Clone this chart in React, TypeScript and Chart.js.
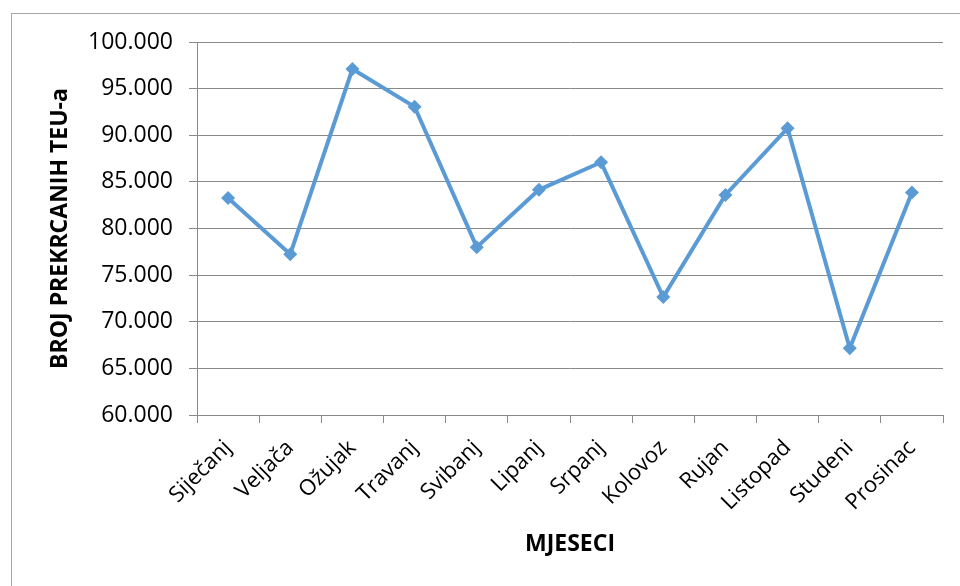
import React, { useEffect, useRef } from "react";
import { Chart, registerables } from "chart.js";

Chart.register(...registerables);

const months = [
  "Siječanj", "Veljača", "Ožujak", "Travanj", "Svibanj", "Lipanj",
  "Srpanj", "Kolovoz", "Rujan", "Listopad", "Studeni", "Prosinac",
];
const teuValues = [83270, 77250, 97100, 93050, 78000, 84150, 87100, 72650, 83600, 90750, 67150, 83850];
const yMin = 60000;
const yMax = 100000;
const yStep = 5000;
const yTitle = "BROJ PREKRCANIH TEU-a";
const xTitle = "MJESECI";

const frame = {
  id: "frame",
  beforeDraw(chart: any) {
    const { ctx } = chart;
    ctx.save();
    ctx.fillStyle = "#ffffff";
    ctx.fillRect(0, 0, chart.width, chart.height);
    ctx.strokeStyle = "#a6a6a6";
    ctx.lineWidth = 1;
    ctx.strokeRect(11.5, 13.5, 1000, 1000);
    ctx.restore();
  },
};

export default function App() {
  const ref = useRef<HTMLCanvasElement | null>(null);
  useEffect(() => {
    if (!ref.current) return;
    const font = "'Open Sans', sans-serif";
    const chart = new Chart(ref.current, {
      type: "line",
      data: {
        labels: months,
        datasets: [
          {
            data: teuValues,
            borderColor: "#5B9BD5",
            backgroundColor: "#5B9BD5",
            borderWidth: 4,
            pointStyle: "rectRot",
            pointRadius: 7,
            pointBorderWidth: 0,
            tension: 0,
          },
        ],
      },
      options: {
        animation: false,
        responsive: false,
        layout: { padding: { top: 42, right: 17, left: 0, bottom: 0 } },
        plugins: { legend: { display: false }, tooltip: { enabled: false } },
        scales: {
          x: {
            offset: true,
            grid: {
              offset: true,
              drawOnChartArea: false,
              drawTicks: true,
              tickLength: 8,
              color: "#898989",
            },
            border: { color: "#898989", width: 1 },
            ticks: {
              color: "#000",
              font: { family: font, size: 22 },
              minRotation: 45,
              maxRotation: 45,
              padding: 12,
              autoSkip: false,
            },
            title: {
              display: true,
              text: xTitle,
              color: "#000",
              font: { family: font, size: 23, weight: "bold" },
              padding: { top: 0, bottom: 28 },
            },
            afterFit(scale: any) {
              scale.height = 171;
            },
          },
          y: {
            min: yMin,
            max: yMax,
            grid: { color: "#898989", tickLength: 8, lineWidth: 1 },
            border: { color: "#898989", width: 1 },
            ticks: {
              stepSize: yStep,
              color: "#000",
              font: { family: font, size: 23 },
              padding: 16,
              callback: (v: any) => (Number(v) / 1000).toFixed(3),
            },
            title: {
              display: true,
              text: yTitle,
              color: "#000",
              font: { family: font, size: 23, weight: "bold" },
              padding: { top: 47, bottom: 0 },
            },
            afterFit(scale: any) {
              scale.width = 197;
            },
          },
        },
      },
      plugins: [frame],
    });
    return () => chart.destroy();
  }, []);
  return (
    <div style={{ position: "absolute", left: 0, top: 0, width: 960, height: 586 }}>
      <canvas ref={ref} width={960} height={586} />
    </div>
  );
}
